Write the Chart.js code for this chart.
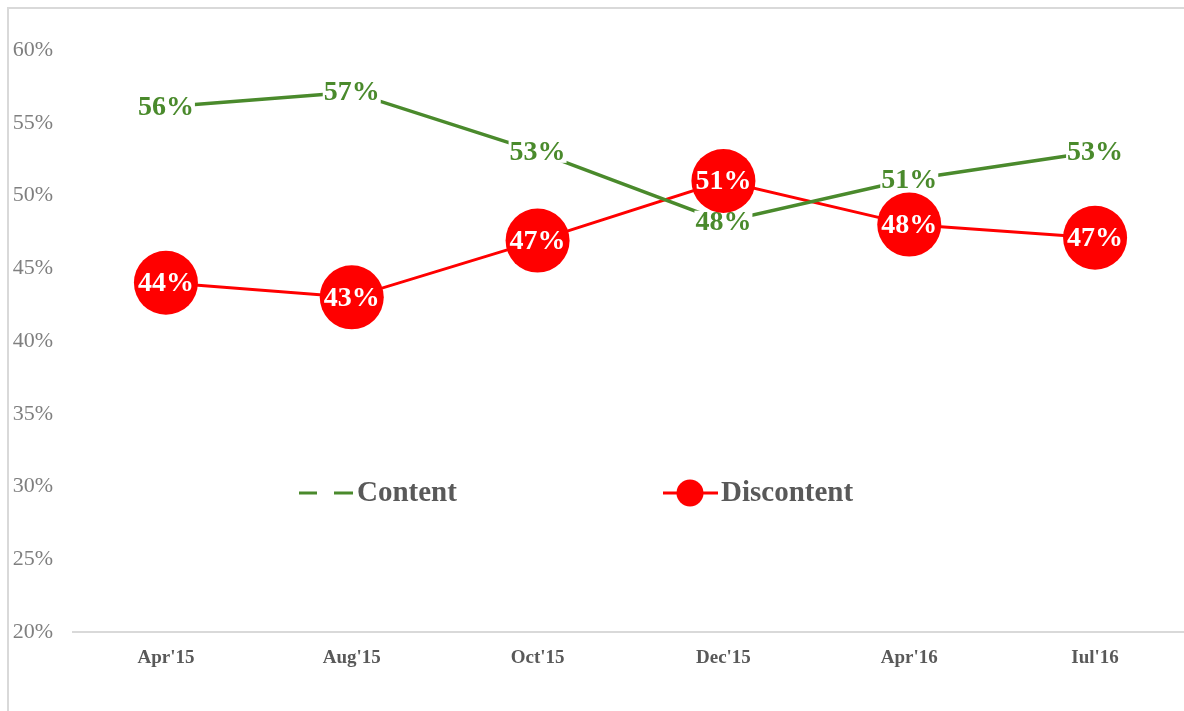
<!DOCTYPE html>
<html>
<head>
<meta charset="utf-8">
<script src="https://cdn.jsdelivr.net/npm/chart.js@4/dist/chart.umd.min.js"></script>
<style>
  html, body {
    margin: 0;
    padding: 0;
    background: #ffffff;
    overflow: hidden;
  }

  #frame {
    position: absolute;
    left: 7px;
    top: 7px;
    width: 1200px;
    height: 720px;
    border-left: 2px solid #d9d9d9;
    border-top: 2px solid #d9d9d9;
  }

  #moodChart {
    display: block;
  }
</style>
</head>
<body>

<div id="frame">
  <canvas id="moodChart" width="1179" height="702"></canvas>
</div>

<script>

// =========================
// DATA
// =========================

const periods = [
  "Apr'15",
  "Aug'15",
  "Oct'15",
  "Dec'15",
  "Apr'16",
  "Iul'16"
];

const contentValues = [
  56.1, 57.1, 53.0, 48.2, 51.1, 53.0
];

const discontentValues = [
  44.0, 43.0, 46.9, 51.0, 48.0, 47.1
];

const yTicks = {
  min: 20,
  max: 60,
  step: 5
};


// =========================
// COMMON CONFIG
// =========================

const SERIF =
  "'Liberation Serif', 'DejaVu Serif', serif";

const GREEN = "#4a8a2c";
const RED = "#ff0000";
const TEXT_GRAY = "#595959";


function percentLabel(value) {

  return Math.round(value) + "%";

}


// =========================
// DATA LABELS
// =========================

const valueLabelsPlugin = {

  id: "valueLabels",

  afterDatasetsDraw(chart) {

    const ctx = chart.ctx;

    ctx.save();
    ctx.font = "bold 28px " + SERIF;
    ctx.textAlign = "center";
    ctx.textBaseline = "middle";

    // content labels: green text on a white box
    const contentMeta =
      chart.getDatasetMeta(0);

    contentMeta.data.forEach(
      (point, i) => {

        const text =
          percentLabel(contentValues[i]);

        const w =
          ctx.measureText(text).width;

        ctx.fillStyle = "#ffffff";
        ctx.fillRect(
          point.x - w / 2 - 1,
          point.y - 11,
          w + 2,
          22
        );

        ctx.fillStyle = GREEN;
        ctx.fillText(
          text,
          point.x,
          point.y + 1
        );

      }
    );

    // discontent labels: white text inside the circles
    const discontentMeta =
      chart.getDatasetMeta(1);

    discontentMeta.data.forEach(
      (point, i) => {

        ctx.fillStyle = RED;
        ctx.beginPath();
        ctx.arc(point.x, point.y, 32, 0, Math.PI * 2);
        ctx.fill();

        ctx.fillStyle = "#ffffff";
        ctx.fillText(
          percentLabel(discontentValues[i]),
          point.x,
          point.y + 1
        );

      }
    );

    ctx.restore();

  }

};


// =========================
// LEGEND (inside plot)
// =========================

const insideLegendPlugin = {

  id: "insideLegend",

  afterDraw(chart) {

    const ctx = chart.ctx;
    const area = chart.chartArea;

    const y = area.top + 443;

    ctx.save();

    // content: dashed green line
    ctx.strokeStyle = GREEN;
    ctx.lineWidth = 3;
    ctx.beginPath();
    ctx.moveTo(290, y);
    ctx.lineTo(308, y);
    ctx.moveTo(325, y);
    ctx.lineTo(344, y);
    ctx.stroke();

    // discontent: red line with dot
    ctx.strokeStyle = RED;
    ctx.beginPath();
    ctx.moveTo(654, y);
    ctx.lineTo(709, y);
    ctx.stroke();

    ctx.fillStyle = RED;
    ctx.beginPath();
    ctx.arc(681, y, 13.5, 0, Math.PI * 2);
    ctx.fill();

    ctx.font = "bold 29px " + SERIF;
    ctx.fillStyle = TEXT_GRAY;
    ctx.textAlign = "left";
    ctx.textBaseline = "middle";

    ctx.fillText("Content", 348, y + 1);
    ctx.fillText("Discontent", 712, y + 1);

    ctx.restore();

  }

};


// =========================
// CHART
// =========================

function renderMoodChart() {

  const canvas =
    document.getElementById(
      "moodChart"
    );

  if(
    !canvas ||
    typeof Chart ===
    "undefined"
  ) return;


  new Chart(
    canvas,
    {

      type: "line",

      data: {

        labels: periods,

        datasets: [

          {
            label: "Content",
            data: contentValues,
            borderColor: GREEN,
            borderWidth: 3.5,
            pointRadius: 0,
            tension: 0,
            fill: false
          },

          {
            label: "Discontent",
            data: discontentValues,
            borderColor: RED,
            borderWidth: 3,
            pointRadius: 0,
            tension: 0,
            fill: false
          }

        ]

      },

      options: {

        responsive: false,
        animation: false,
        devicePixelRatio: 1,

        layout: {
          padding: {
            top: 41,
            left: 0,
            right: 0,
            bottom: 0
          }
        },

        plugins: {
          legend: { display: false },
          tooltip: { enabled: false }
        },

        scales: {

          x: {
            offset: true,
            grid: {
              display: false,
              drawTicks: false
            },
            border: {
              display: true,
              color: "#d9d9d9",
              width: 2
            },
            ticks: {
              padding: 15,
              color: TEXT_GRAY,
              font: {
                family: SERIF,
                size: 19,
                weight: "bold"
              }
            },
            afterFit(scale) {
              scale.height = 79;
            }
          },

          y: {
            min: yTicks.min,
            max: yTicks.max,
            grid: {
              display: false,
              drawTicks: false
            },
            border: {
              display: false
            },
            ticks: {
              stepSize: yTicks.step,
              padding: 20,
              color: "#7f7f7f",
              font: {
                family: SERIF,
                size: 22
              },
              callback: value => value + "%"
            },
            afterFit(scale) {
              scale.width = 64;
            }
          }

        }

      },

      plugins: [
        valueLabelsPlugin,
        insideLegendPlugin
      ]

    }
  );

}


renderMoodChart();

</script>
</body>
</html>
